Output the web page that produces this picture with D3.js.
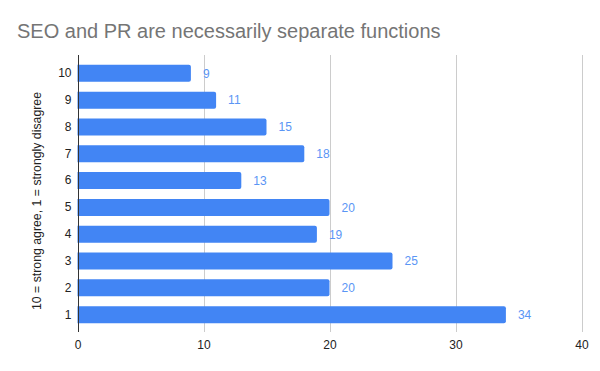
<!DOCTYPE html>
<html>
<head>
<meta charset="utf-8">
<script src="https://cdn.jsdelivr.net/npm/d3@7"></script>
<style>
	body { margin: 0; background: #fff; }
	text { font-family: Arial, "Liberation Sans", sans-serif; }
</style>
</head>
<body>
<svg class="chart" width="600" height="371"></svg>
<script>
// Chart data:

var categories = ["10", "9", "8", "7", "6", "5", "4", "3", "2", "1"];
var values = [9, 11, 15, 18, 13, 20, 19, 25, 20, 34];
var xTicks = [0, 10, 20, 30, 40];

var titleText = "SEO and PR are necessarily separate functions",
	yTitle = "10 = strong agree, 1 = strongly disagree";

// Basic dimensions:

var plot = {left: 77.5, right: 581.5, top: 55, bottom: 332},
	bandTop = 60,
	bandBottom = 328,
	barColor = "#4285f4";

var chart = d3.select(".chart");

var x = d3.scaleLinear()
	.domain([0, 40])
	.range([plot.left, plot.right]);

var y = d3.scaleBand()
	.domain(categories)
	.range([bandTop, bandBottom])
	.paddingInner(0.365)
	.paddingOuter(0.18);

// Gridlines:

chart.append("g")
	.selectAll("line")
	.data(xTicks.filter(function(d) { return d > 0; }))
	.enter().append("line")
	.attr("x1", function(d) { return Math.round(x(d)) + 0.5; })
	.attr("x2", function(d) { return Math.round(x(d)) + 0.5; })
	.attr("y1", plot.top)
	.attr("y2", plot.bottom)
	.style("stroke", "#cccccc")
	.style("stroke-width", 1);

// Bars, square at zero, slightly rounded at the end:

var rx = 2;
chart.append("g")
	.selectAll("path")
	.data(values)
	.enter().append("path")
	.attr("d", function(d, i) {
		var x0 = x(0), x1 = x(d), y0 = y(categories[i]), h = y.bandwidth();
		return "M" + x0 + "," + y0 +
			"H" + (x1 - rx) +
			"Q" + x1 + "," + y0 + " " + x1 + "," + (y0 + rx) +
			"V" + (y0 + h - rx) +
			"Q" + x1 + "," + (y0 + h) + " " + (x1 - rx) + "," + (y0 + h) +
			"H" + x0 + "Z";
	})
	.style("fill", barColor);

// Value labels:

chart.append("g")
	.selectAll("text")
	.data(values)
	.enter().append("text")
	.attr("x", function(d) { return x(d) + 12; })
	.attr("y", function(d, i) { return y(categories[i]) + y.bandwidth() / 2; })
	.attr("dy", "0.36em")
	.style("font-size", "12px")
	.style("fill", "#5a95f5")
	.text(function(d) { return d; });

// Axes:

var xAxis = d3.axisBottom(x)
	.tickValues(xTicks)
	.tickSize(0)
	.tickPadding(8);

var gx = chart.append("g")
	.attr("transform", "translate(0," + plot.bottom + ")")
	.call(xAxis);
gx.select(".domain").remove();
gx.selectAll("text")
	.style("font-size", "12px")
	.style("font-family", "Arial, 'Liberation Sans', sans-serif")
	.style("fill", "#222");

var yAxis = d3.axisLeft(y)
	.tickSize(0)
	.tickPadding(6);

var gy = chart.append("g")
	.attr("transform", "translate(" + plot.left + ",0)")
	.call(yAxis);
gy.select(".domain").remove();
gy.selectAll("text")
	.style("font-size", "12px")
	.style("font-family", "Arial, 'Liberation Sans', sans-serif")
	.style("fill", "#222");

// Baseline at zero:

chart.append("line")
	.attr("x1", Math.round(x(0)) + 0.5)
	.attr("x2", Math.round(x(0)) + 0.5)
	.attr("y1", plot.top)
	.attr("y2", plot.bottom)
	.style("stroke", "#333")
	.style("stroke-width", 1);

// Titles:

chart.append("text")
	.attr("x", 17)
	.attr("y", 38)
	.style("font-size", "20px")
	.style("fill", "#757575")
	.text(titleText);

chart.append("text")
	.attr("transform", "translate(41,201) rotate(-90)")
	.style("text-anchor", "middle")
	.style("font-size", "12.3px")
	.style("fill", "#222")
	.text(yTitle);
</script>
</body>
</html>
